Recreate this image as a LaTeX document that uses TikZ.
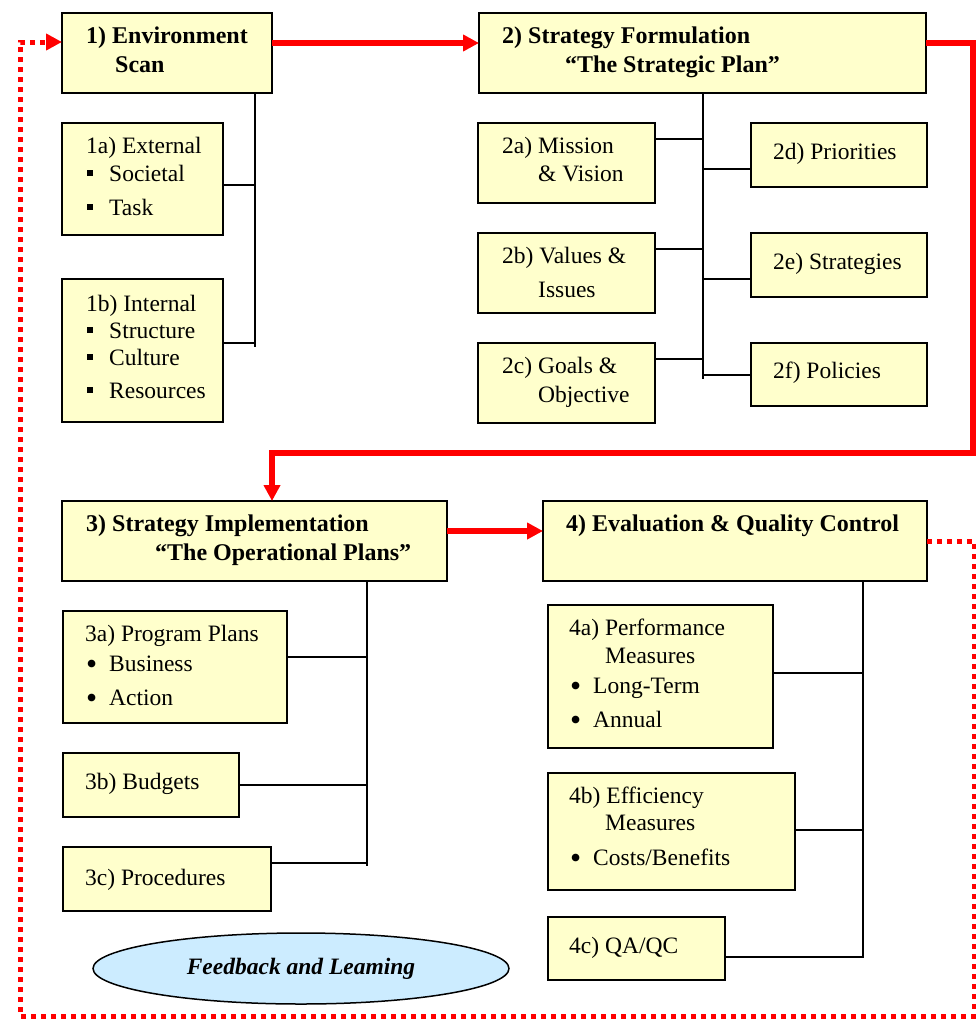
\documentclass[tikz,border=0pt]{standalone}
\usepackage{fontspec}
\setmainfont{Liberation Serif}
\usetikzlibrary{arrows.meta,shapes.geometric}
\definecolor{boxfill}{HTML}{FFFFCC}
\definecolor{ovalfill}{HTML}{CCECFF}
\definecolor{flowred}{HTML}{FF0000}
% bullets used in the lists
\newcommand\sqb{\makebox[22pt][l]{\rule[5pt]{6pt}{6pt}}}
\newcommand\rdb{\makebox[23pt][l]{\raisebox{-3.5pt}{\scalebox{1.35}{\textbullet}}}}
\tikzset{
  box/.style={draw=black, line width=2pt, fill=boxfill, inner sep=0pt, outer sep=0pt, anchor=north west},
  txt/.style={anchor=base west, inner sep=0pt, font=\fontsize{23.5}{28}\selectfont},
  ttl/.style={anchor=base west, inner sep=0pt, font=\fontsize{24}{28}\selectfont\bfseries},
  conn/.style={draw=black, line width=2pt},
  redarrow/.style={draw=flowred, line width=5.5pt, line join=miter, -{Triangle[length=16pt,width=16pt]}},
  fbarrow/.style={draw=flowred, line width=5pt, dash pattern=on 5pt off 5pt, -{Triangle[length=16pt,width=16pt]}},
  oval/.style={ellipse, draw=black, line width=1.5pt, fill=ovalfill, inner sep=0pt,
    minimum width=416pt, minimum height=71pt, font=\fontsize{23.5}{28}\selectfont\bfseries\itshape}
}
\begin{document}
\begin{tikzpicture}[x=1pt,y=-1pt]
\useasboundingbox (0,0) rectangle (976,1020);

% main stages
\node[box, minimum width=210pt, minimum height=80pt] (b1) at (62,13) {};
\node[box, minimum width=447pt, minimum height=80pt] (b2) at (479,13) {};
\node[box, minimum width=385pt, minimum height=80pt] (b3) at (62,501) {};
\node[box, minimum width=384pt, minimum height=80pt] (b4) at (543,501) {};

% stage 1 items
\node[box, minimum width=161pt, minimum height=112pt] (b1a) at (62,123) {};
\node[box, minimum width=161pt, minimum height=143pt] (b1b) at (62,279) {};
% stage 2 items
\node[box, minimum width=177pt, minimum height=80pt] (b2a) at (478,123) {};
\node[box, minimum width=177pt, minimum height=80pt] (b2b) at (478,233) {};
\node[box, minimum width=177pt, minimum height=80pt] (b2c) at (478,343) {};
\node[box, minimum width=176pt, minimum height=64pt] (b2d) at (751,123) {};
\node[box, minimum width=176pt, minimum height=64pt] (b2e) at (751,233) {};
\node[box, minimum width=176pt, minimum height=63pt] (b2f) at (751,343) {};
% stage 3 items
\node[box, minimum width=224pt, minimum height=112pt] (b3a) at (63,611) {};
\node[box, minimum width=176pt, minimum height=64pt] (b3b) at (63,753) {};
\node[box, minimum width=208pt, minimum height=64pt] (b3c) at (63,847) {};
% stage 4 items
\node[box, minimum width=225pt, minimum height=143pt] (b4a) at (548,605) {};
\node[box, minimum width=247pt, minimum height=117pt] (b4b) at (548,773) {};
\node[box, minimum width=177pt, minimum height=63pt] (b4c) at (548,917) {};

% feedback oval
\node[oval] (fb) at (301,968.5) {Feedback and Leaming};

% texts
\node[ttl] (t1a) at (86,43) {1) Environment};
\node[ttl] (t1b) at (115,72) {Scan};
\node[ttl] (t2a) at (502,43) {2) Strategy Formulation};
\node[ttl] (t2b) at (565,72) {“The Strategic Plan”};
\node[ttl] (t3a) at (86,531) {3) Strategy Implementation};
\node[ttl] (t3b) at (155,560) {“The Operational Plans”};
\node[ttl] (t4a) at (566,531) {4) Evaluation \& Quality Control};

\node[txt] (s1a1) at (86,153) {1a) External};
\node[txt] (s1a2) at (87,181) {\sqb Societal};
\node[txt] (s1a3) at (87,215) {\sqb Task};
\node[txt] (s1b1) at (86,311) {1b) Internal};
\node[txt] (s1b2) at (87,338) {\sqb Structure};
\node[txt] (s1b3) at (87,365) {\sqb Culture};
\node[txt] (s1b4) at (87,398) {\sqb Resources};

\node[txt] (s2a1) at (502,153) {2a) Mission};
\node[txt] (s2a2) at (538,181) {\& Vision};
\node[txt] (s2b1) at (502,263) {2b) Values \&};
\node[txt] (s2b2) at (538,297) {Issues};
\node[txt] (s2c1) at (502,373) {2c) Goals \&};
\node[txt] (s2c2) at (538,402) {Objective};
\node[txt] (s2d) at (773,159) {2d) Priorities};
\node[txt] (s2e) at (773,269) {2e) Strategies};
\node[txt] (s2f) at (773,378) {2f) Policies};

\node[txt] (s3a1) at (85,641) {3a) Program Plans};
\node[txt] (s3a2) at (86,671) {\rdb Business};
\node[txt] (s3a3) at (86,705) {\rdb Action};
\node[txt] (s3b) at (85,789) {3b) Budgets};
\node[txt] (s3c) at (85,885) {3c) Procedures};

\node[txt] (s4a1) at (569,635) {4a) Performance};
\node[txt] (s4a2) at (605,663) {Measures};
\node[txt] (s4a3) at (570,693) {\rdb Long-Term};
\node[txt] (s4a4) at (570,727) {\rdb Annual};
\node[txt] (s4b1) at (569,803) {4b) Efficiency};
\node[txt] (s4b2) at (605,830) {Measures};
\node[txt] (s4b3) at (570,865) {\rdb Costs/Benefits};
\node[txt] (s4c) at (569,953) {4c) QA/QC};

% tree connectors, stage 1
\coordinate (tr1) at (255,347);
\coordinate (j1a) at (255,185);
\coordinate (j1b) at (255,343);
\draw[conn] (b1.south -| tr1) -- (tr1);
\draw[conn] (b1a.east |- j1a) -- (j1a);
\draw[conn] (b1b.east |- j1b) -- (j1b);

% tree connectors, stage 2
\coordinate (tr2) at (703,379);
\coordinate (j2a) at (703,139);
\coordinate (j2b) at (703,249);
\coordinate (j2c) at (703,359);
\coordinate (j2d) at (703,169);
\coordinate (j2e) at (703,279);
\coordinate (j2f) at (703,375);
\draw[conn] (b2.south -| tr2) -- (tr2);
\draw[conn] (b2a.east |- j2a) -- (j2a);
\draw[conn] (b2b.east |- j2b) -- (j2b);
\draw[conn] (b2c.east |- j2c) -- (j2c);
\draw[conn] (j2d) -- (b2d.west |- j2d);
\draw[conn] (j2e) -- (b2e.west |- j2e);
\draw[conn] (j2f) -- (b2f.west |- j2f);

% tree connectors, stage 3
\coordinate (tr3) at (367,866);
\coordinate (j3a) at (367,657);
\coordinate (j3b) at (367,785);
\coordinate (j3c) at (367,863);
\draw[conn] (b3.south -| tr3) -- (tr3);
\draw[conn] (b3a.east |- j3a) -- (j3a);
\draw[conn] (b3b.east |- j3b) -- (j3b);
\draw[conn] (b3c.east |- j3c) -- (j3c);

% tree connectors, stage 4
\coordinate (tr4) at (863,958);
\coordinate (j4a) at (863,673);
\coordinate (j4b) at (863,830);
\coordinate (j4c) at (863,957);
\draw[conn] (b4.south -| tr4) -- (tr4);
\draw[conn] (b4a.east |- j4a) -- (j4a);
\draw[conn] (b4b.east |- j4b) -- (j4b);
\draw[conn] (b4c.east |- j4c) -- (j4c);

% main flow
\coordinate (c1) at (973,453);
\coordinate (c2) at (272,453);
\draw[redarrow] ([yshift=10pt]b1.east) -- ([yshift=10pt]b2.west);
\draw[redarrow] ([yshift=10pt]b2.east) -| (c1) -- (c2) -- (c2 |- b3.north);
\draw[redarrow] ([yshift=10pt]b3.east) -- ([yshift=10pt]b4.west);

% feedback loop
\coordinate (c3) at (974,1016);
\coordinate (c4) at (20,1016);
\draw[fbarrow] (b4.east) -| (c3) -- (c4) |- ([yshift=11pt]b1.west);
\end{tikzpicture}
\end{document}
